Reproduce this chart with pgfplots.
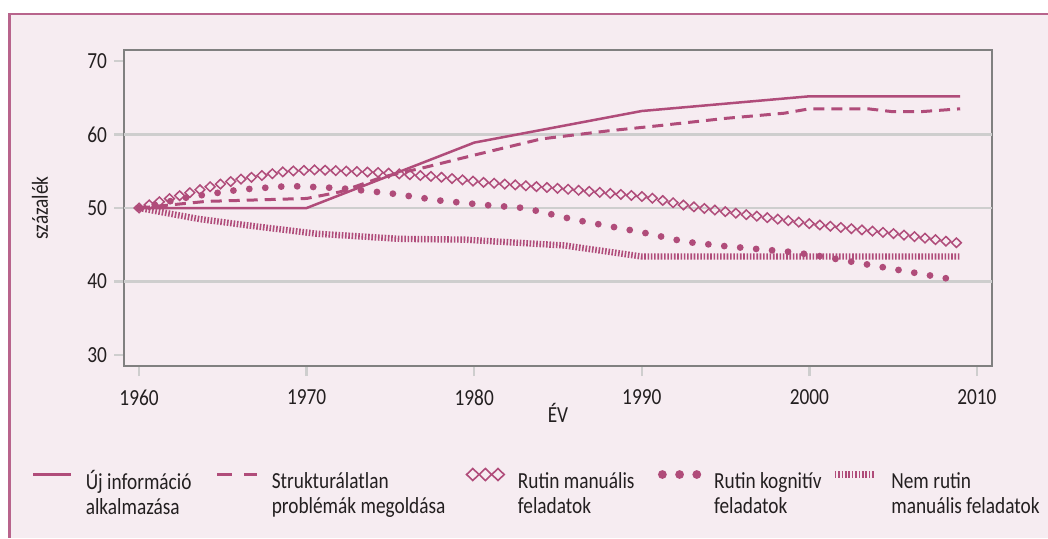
\documentclass[border=0pt]{standalone}
\usepackage{fontspec}
\setmainfont{Carlito}[FakeStretch=0.84]
\usepackage{pgfplots}
\pgfplotsset{compat=1.18}
\usetikzlibrary{decorations.markings,shapes.geometric}
\definecolor{rose}{RGB}{176,76,122}
\definecolor{bgpink}{RGB}{246,236,241}
\definecolor{framec}{RGB}{184,100,140}
\definecolor{axisgray}{RGB}{128,128,128}
\definecolor{tickgray}{RGB}{206,206,206}
\definecolor{txt}{RGB}{35,31,32}
\newcommand{\lfont}{\fontsize{11.5}{12.5}\selectfont}
\newcommand{\lent}[3]{\makebox[#1][l]{\begin{tabular}[t]{@{}l@{}}#2\\#3\end{tabular}}}
\tikzset{dmd/.style={diamond, draw=rose, line width=0.75pt, minimum width=5.2pt, minimum height=5pt, inner sep=0pt}}
% legend images drawn with the basic layer (no TikZ styles inherited)
\newcommand{\lbox}{\pgfpathrectangle{\pgfpoint{0pt}{0pt}}{\pgfpoint{19pt}{7pt}}\pgfusepath{discard}}
\newcommand{\ldiam}[1]{%
  \pgfpathmoveto{\pgfpoint{#1-3.1pt}{3.5pt}}%
  \pgfpathlineto{\pgfpoint{#1}{6.5pt}}%
  \pgfpathlineto{\pgfpoint{#1+3.1pt}{3.5pt}}%
  \pgfpathlineto{\pgfpoint{#1}{0.5pt}}%
  \pgfpathclose}
\newcommand{\lline}[3]{% width, dash pattern, length
  \pgfsetstrokecolor{rose}\pgfsetlinewidth{#1}\pgfsetbuttcap\pgfsetdash{#2}{0pt}%
  \pgfpathmoveto{\pgfpoint{0pt}{3.5pt}}\pgfpathlineto{\pgfpoint{#3}{3.5pt}}\pgfusepath{stroke}}
\begin{document}
\begin{tikzpicture}
\path[use as bounding box] (0pt,0pt) rectangle (524pt,269pt);
\fill[white] (0pt,0pt) rectangle (524pt,269pt);
\fill[bgpink] (4pt,0pt) rectangle (524pt,262pt);
\draw[framec, line width=1pt] (524pt,262pt) -- (4.75pt,262pt);
\draw[framec, line width=1.6pt] (4.75pt,262.5pt) -- (4.75pt,0pt);
\begin{axis}[
  at={(62pt,86pt)}, anchor=south west, scale only axis,
  width=434pt, height=158pt,
  xmin=1959.1, xmax=2010.9, ymin=28.5, ymax=71.5,
  xtick={1960,1970,1980,1990,2000,2010},
  ytick={30,40,50,60,70},
  xtick pos=bottom, ytick pos=left,
  tick align=outside, major tick length=5pt,
  tick style={draw=tickgray, line width=1.2pt},
  axis line style={draw=axisgray, line width=1.2pt},
  extra y ticks={40,50,60}, extra y tick labels={},
  extra y tick style={grid=major, major tick length=0pt},
  major grid style={draw=tickgray, line width=1.2pt},
  /pgf/number format/1000 sep={},
  /pgf/number format/assume math mode=true,
  tick label style={font=\lfont, text=txt},
  xticklabel style={yshift=-3.2pt},
  xlabel={ÉV}, ylabel={százalék},
  label style={font=\lfont, text=txt},
  xlabel style={at={(axis description cs:0.5,-0.1772)}, anchor=base},
  ylabel style={at={(axis description cs:-0.0876,0.5)}, anchor=base},
  legend columns=5, reverse legend,
  legend style={at={(axis description cs:-0.106,-0.3212)}, anchor=north west,
    draw=none, fill=none, inner sep=0pt, outer sep=0pt, font=\lfont, text=txt,
    column sep=6.5pt, /tikz/every even column/.append style={column sep=0pt},
    nodes={inner sep=0pt}},
]
% Nem rutin manualis feladatok (hatched)
\addplot[rose, line width=3.2pt, dash pattern=on 0.8pt off 0.85pt,
  legend image code/.code={\lbox\lline{3.6pt}{{0.8pt}{0.9pt}}{20pt}}]
coordinates {(1960,50) (1963.6,48.5) (1966.6,47.6) (1970.6,46.5) (1975.6,45.8) (1979.4,45.7) (1985.4,44.9) (1990,43.4) (2009,43.4)};
\addlegendentry{\lent{75pt}{Nem rutin}{manuális feladatok}}
% Rutin kognitiv feladatok (dots)
\addplot[rose, line width=3.4pt, line cap=round, dash pattern=on 0pt off 8pt,
  legend image code/.code={\lbox\pgfsetfillcolor{rose}%
    \pgfpathcircle{\pgfpoint{2.2pt}{3.5pt}}{2.2pt}%
    \pgfpathcircle{\pgfpoint{10.8pt}{3.5pt}}{2.2pt}%
    \pgfpathcircle{\pgfpoint{19.4pt}{3.5pt}}{2.2pt}\pgfusepath{fill}}]
coordinates {(1960,50) (1963,51.5) (1966,52.5) (1969,53) (1972,52.7) (1975,52) (1978,51) (1980.7,50.4) (1983,50) (1986,48.4) (1990,46.7) (1992.6,45.4) (1995,44.8) (1999,44) (2000.5,43.5) (2005,41.7) (2009,40.1)};
\addlegendentry{\lent{58.5pt}{Rutin kognitív}{feladatok}}
% Rutin manualis feladatok (diamonds)
\addplot[draw=none, postaction={decorate},
  decoration={markings, mark=between positions 0 and 1 step 5.3pt with {\node[dmd]{};}},
  legend image code/.code={\lbox
    \pgfsetstrokecolor{rose}\pgfsetlinewidth{0.8pt}\pgfsetdash{}{0pt}%
    \ldiam{3.2pt}\ldiam{9.5pt}\ldiam{15.8pt}\pgfusepath{stroke}}]
coordinates {(1960,50) (1961.7,51.2) (1964.4,53) (1966,53.9) (1968.8,55) (1970.6,55.2) (1974.6,54.8) (1978,54.2) (1980.5,53.5) (1985.4,52.6) (1990.3,51.5) (1992.7,50.3) (1995.3,49.4) (2000.2,47.8) (2005.1,46.5) (2009,45.2)};
\addlegendentry{\lent{70pt}{Rutin manuális}{feladatok}}
% Strukturalatlan problemak megoldasa (dashed)
\addplot[rose, line width=1.5pt, dash pattern=on 5.5pt off 3.5pt,
  legend image code/.code={\lbox\lline{1.5pt}{{7.5pt}{6pt}}{20pt}}]
coordinates {(1960,50) (1964,50.9) (1970,51.3) (1972,52.2) (1974.5,54.2) (1977,55.5) (1980,57.2) (1984,59.4) (1988,60.5) (1991,61.2) (1995,62.2) (1998.5,62.9) (2000,63.5) (2003.5,63.5) (2005,63.1) (2006.6,63.1) (2009,63.5)};
\addlegendentry{\lent{97pt}{Strukturálatlan}{problémák megoldása}}
% Uj informacio alkalmazasa (solid)
\addplot[rose, line width=1.25pt,
  legend image code/.code={\lbox\lline{1.4pt}{}{19pt}}]
coordinates {(1960,50) (1970,50) (1980,58.9) (1990,63.2) (2000,65.2) (2009,65.2)};
\addlegendentry{\lent{65pt}{Új információ}{alkalmazása}}
\end{axis}
\end{tikzpicture}
\end{document}
